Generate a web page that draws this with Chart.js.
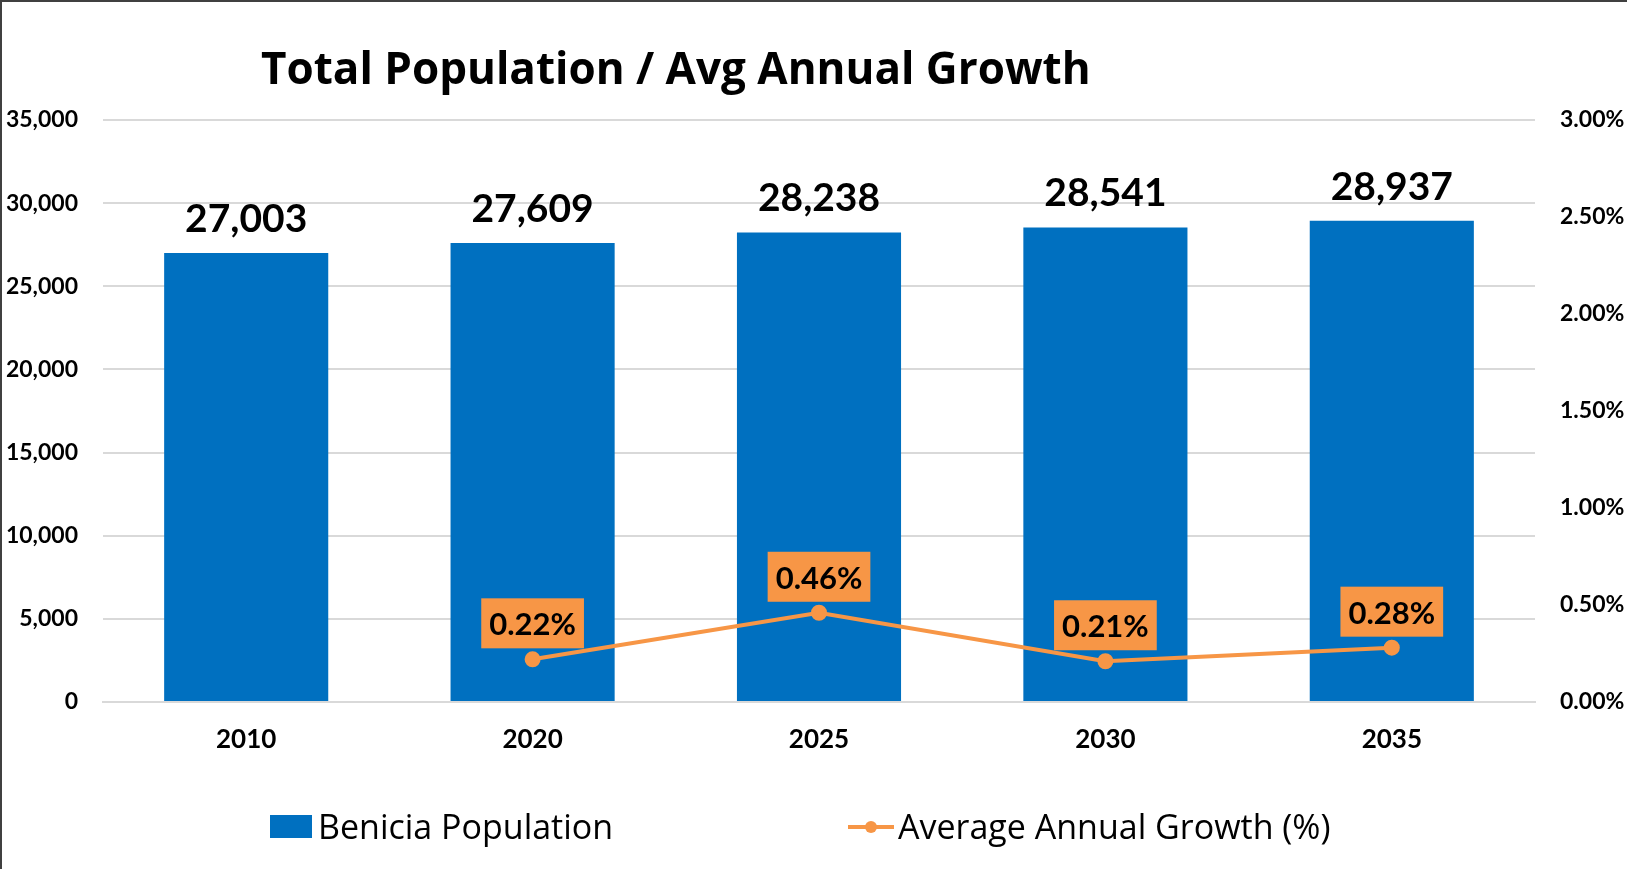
<!DOCTYPE html>
<html>
<head>
<meta charset="utf-8">
<script src="https://cdn.jsdelivr.net/npm/chart.js@4/dist/chart.umd.min.js"></script>
<style>
  body { margin: 0; background: #fff; }
  #wrap { position: relative; width: 1627px; height: 869px; }
  #wrap:before { content: ''; position: absolute; left: 0; top: 0; width: 2px; height: 869px; background: #404040; }
  #wrap:after { content: ''; position: absolute; left: 0; top: 0; width: 1627px; height: 2px; background: #404040; }
</style>
</head>
<body>
<div id="wrap"><canvas id="chart" width="1627" height="869"></canvas></div>
<script>
// datos del gráfico
const years = ['2010', '2020', '2025', '2030', '2035'];
const population = [27003, 27609, 28238, 28541, 28937];
const growth = [null, 0.22, 0.46, 0.21, 0.28];
const popTicks = [0, 5000, 10000, 15000, 20000, 25000, 30000, 35000];
const growthTicks = [0, 0.5, 1.0, 1.5, 2.0, 2.5, 3.0];

const chartTitle = 'Total Population / Avg Annual Growth';
const popLabel = 'Benicia Population';
const growthLabel = 'Average Annual Growth (%)';

const blue = '#0070C0';
const orange = '#F79646';
const fontName = 'Lato, "Open Sans", sans-serif';
const wideFont = '"Open Sans", Lato, sans-serif';

// Título, etiquetas y leyenda dibujados a mano
const extras = {
    id: 'extras',
    afterDatasetsDraw(chart) {
        const ctx = chart.ctx;
        ctx.save();

        // etiquetas de las barras
        const barMeta = chart.getDatasetMeta(0);
        ctx.fillStyle = '#000';
        ctx.font = 'bold 39px ' + fontName;
        ctx.textAlign = 'center';
        ctx.textBaseline = 'alphabetic';
        barMeta.data.forEach((bar, i) => {
            ctx.fillText(population[i].toLocaleString('en-US'), bar.x, bar.y - 21);
        });

        // etiquetas de la línea con caja naranja
        const lineMeta = chart.getDatasetMeta(1);
        ctx.font = 'bold 31px ' + fontName;
        lineMeta.data.forEach((pt, i) => {
            if (growth[i] === null) return;
            const txt = growth[i].toFixed(2) + '%';
            const w = ctx.measureText(txt).width + 16;
            const h = 50;
            const bottom = pt.y - 11;
            ctx.fillStyle = orange;
            ctx.fillRect(pt.x - w / 2, bottom - h, w, h);
            ctx.fillStyle = '#000';
            ctx.textBaseline = 'middle';
            ctx.fillText(txt, pt.x, bottom - h / 2 + 2);
        });

        // título
        ctx.font = 'bold 44px ' + wideFont;
        ctx.textAlign = 'left';
        ctx.textBaseline = 'alphabetic';
        ctx.fillStyle = '#000';
        ctx.fillText(chartTitle, 261, 84);

        // leyenda
        const ly = 827;
        ctx.font = '34px ' + wideFont;
        ctx.textBaseline = 'middle';
        ctx.fillStyle = blue;
        ctx.fillRect(270, ly - 12, 42, 23);
        ctx.fillStyle = '#000';
        ctx.fillText(popLabel, 318, ly + 2);

        ctx.strokeStyle = orange;
        ctx.lineWidth = 4;
        ctx.beginPath();
        ctx.moveTo(848, ly);
        ctx.lineTo(894, ly);
        ctx.stroke();
        ctx.fillStyle = orange;
        ctx.beginPath();
        ctx.arc(871, ly, 6, 0, Math.PI * 2);
        ctx.fill();
        ctx.fillStyle = '#000';
        ctx.fillText(growthLabel, 898, ly + 2);

        ctx.restore();
    }
};

new Chart(document.getElementById('chart'), {
    type: 'bar',
    data: {
        labels: years,
        datasets: [
            {
                type: 'bar',
                label: popLabel,
                data: population,
                backgroundColor: blue,
                yAxisID: 'y',
                categoryPercentage: 0.573,
                barPercentage: 1,
                order: 2
            },
            {
                type: 'line',
                label: growthLabel,
                data: growth,
                borderColor: orange,
                backgroundColor: orange,
                borderWidth: 4,
                pointRadius: 6,
                pointHoverRadius: 6,
                tension: 0,
                yAxisID: 'y1',
                order: 1
            }
        ]
    },
    options: {
        responsive: false,
        animation: false,
        devicePixelRatio: 1,
        layout: { padding: { top: 120, left: 0, right: 0, bottom: 90 } },
        plugins: {
            legend: { display: false },
            title: { display: false },
            tooltip: { enabled: false }
        },
        scales: {
            x: {
                grid: { display: false, drawTicks: false },
                border: { display: true, color: '#d9d9d9', width: 2 },
                ticks: { color: '#000', font: { family: fontName, size: 26, weight: 'bold' }, padding: 22 },
                afterFit: (scale) => { scale.height = 77; }
            },
            y: {
                position: 'left',
                min: 0,
                max: 35000,
                afterBuildTicks: (scale) => { scale.ticks = popTicks.map(v => ({ value: v })); },
                grid: { color: '#d9d9d9', lineWidth: 2, drawTicks: false },
                border: { display: false },
                ticks: {
                    color: '#000',
                    font: { family: fontName, size: 23, weight: 'bold' },
                    padding: 25,
                    callback: (v) => v.toLocaleString('en-US')
                },
                afterFit: (scale) => { scale.width = 103; }
            },
            y1: {
                position: 'right',
                min: 0,
                max: 3,
                afterBuildTicks: (scale) => { scale.ticks = growthTicks.map(v => ({ value: v })); },
                grid: { display: false, drawTicks: false },
                border: { display: false },
                ticks: {
                    color: '#000',
                    font: { family: fontName, size: 23, weight: 'bold' },
                    padding: 25,
                    callback: (v) => Number(v).toFixed(2) + '%'
                },
                afterFit: (scale) => { scale.width = 92; }
            }
        }
    },
    plugins: [extras]
});
</script>
</body>
</html>
